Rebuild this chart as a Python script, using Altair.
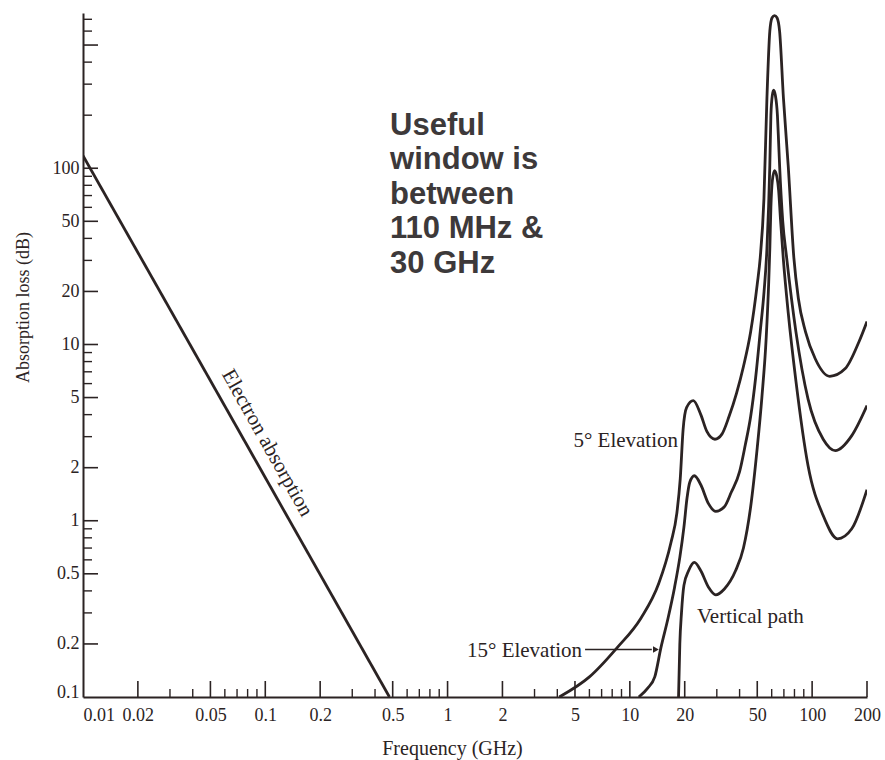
import altair as alt
import pandas as pd

# ---------------- data ----------------
electron_x = [0.01, 0.48]
electron_y = [118, 0.1]

el5_x = [4.1, 6.0, 8.5, 11.5, 14.4, 16.8, 18.1, 18.9, 19.6, 20.5, 22.3, 24.5, 26.5, 29.3, 32, 35, 38.5, 42, 46, 50,
         51.9, 54.4, 56.5, 58.6, 60.3, 62.2, 64.2, 66.3, 69.6, 73.9, 79.4, 84, 92, 104, 125, 152, 181, 200]
el5_y = [0.1, 0.13, 0.19, 0.28, 0.44, 0.75, 1.1, 1.73, 3.3, 4.4, 4.8, 4.0, 3.2, 2.9, 3.1, 3.9, 5.3, 7.5, 11.8, 22,
         31, 67, 250, 600, 715, 735, 715, 600, 250, 104, 31, 18.3, 11.8, 8.3, 6.6, 7.3, 10.4, 13.5]

el15_x = [11.2, 12.5, 13.7, 14.8, 16.2, 17.6, 18.8, 19.8, 20.6, 21.3, 22.6, 24.5, 27, 29.6, 33, 36, 40, 43, 46,
          49, 51.9, 54.5, 56.5, 58.6, 59.4, 60.5, 61.5, 62.8, 64.5, 65.5, 66.3, 69, 72.5, 81.5, 95, 115, 134, 165, 200]
el15_y = [0.1, 0.112, 0.13, 0.19, 0.28, 0.42, 0.62, 0.92, 1.35, 1.65, 1.8, 1.6, 1.25, 1.13, 1.2, 1.45, 1.9, 2.7, 3.9,
          6.5, 11.8, 20, 35, 104, 200, 260, 277, 260, 200, 140, 104, 50, 31, 11.8, 4.9, 2.9, 2.5, 3.04, 4.5]

vert_x = [18.5, 18.8, 19.2, 19.8, 21.0, 22.6, 24.5, 27, 29.6, 33, 38, 42, 46, 50, 53, 56, 57.8, 58.6, 59.4,
          60.5, 62.2, 64.0, 65.5, 67, 69.6, 74, 81.5, 95, 115, 138, 165, 200]
vert_y = [0.1, 0.2, 0.3, 0.43, 0.52, 0.58, 0.52, 0.42, 0.38, 0.41, 0.52, 0.7, 1.2, 2.6, 5.0, 11, 22.7, 35, 60,
          85, 97, 90, 75, 52, 30, 15, 6.2, 2.05, 1.07, 0.79, 0.9, 1.5]

x_major = [0.01, 0.02, 0.05, 0.1, 0.2, 0.5, 1, 2, 5, 10, 20, 50, 100, 200]
x_minor = [0.03, 0.04, 0.06, 0.07, 0.08, 0.09, 0.3, 0.4, 0.6, 0.7, 0.8, 0.9,
           3, 4, 6, 7, 8, 9, 30, 40, 60, 70, 80, 90]
y_major = [0.1, 0.2, 0.5, 1, 2, 5, 10, 20, 50, 100]
y_major_ticks = [0.2, 0.5, 1, 2, 5, 10, 20, 50, 100, 500]
y_minor = [0.3, 0.4, 0.6, 0.7, 0.8, 0.9, 3, 4, 6, 7, 8, 9, 30, 40, 60, 70, 80, 90,
           200, 300, 400, 600, 700]

window_lines = ["Useful", "window is", "between", "110 MHz &", "30 GHz"]

INK = "#2b2323"
SERIF = "Liberation Serif"
W, H = 784, 684

# ---------------- build ----------------
rows = []
for name, xs_, ys_ in [("electron", electron_x, electron_y), ("5deg", el5_x, el5_y),
                       ("15deg", el15_x, el15_y), ("vertical", vert_x, vert_y)]:
    for a, b in zip(xs_, ys_):
        rows.append({"series": name, "f": a, "loss": b})
curves = pd.DataFrame(rows)

xs = alt.Scale(type="log", domain=[0.01, 200], nice=False)
ys = alt.Scale(type="log", domain=[0.1, 760], nice=False)

x_axis = alt.Axis(values=x_major, format="~g", ticks=False, tickSize=0, grid=False,
                  domainColor=INK, domainWidth=2, labelFont=SERIF, labelFontSize=18,
                  labelColor=INK, labelPadding=9, labelFlush=False, labelOverlap=False,
                  labelAlign=alt.expr("datum.value < 0.011 ? 'left' : 'center'"),
                  title="Frequency (GHz)", titleFont=SERIF, titleFontSize=20,
                  titleFontWeight="normal", titleColor=INK, titleX=369, titleY=51,
                  titleAlign="center", titleBaseline="middle")
y_axis = alt.Axis(values=y_major, format="~g", ticks=False, tickSize=0, grid=False,
                  domainColor=INK, domainWidth=2, labelFont=SERIF, labelFontSize=18,
                  labelColor=INK, labelPadding=4, labelOverlap=False, labelFlush=False,
                  labelBaseline=alt.expr("datum.value < 0.11 ? 'alphabetic' : 'middle'"),
                  title="Absorption loss (dB)", titleFont=SERIF, titleFontSize=18,
                  titleFontWeight="normal", titleColor=INK, titleX=-60, titleY=294,
                  titleAngle=-90, titleAlign="center", titleBaseline="middle")


def X(field):
    return alt.X(field, scale=xs, axis=x_axis)


def Y(field):
    return alt.Y(field, scale=ys, axis=y_axis)


lines = alt.Chart(curves).mark_line(interpolate="monotone", strokeWidth=2.8, color=INK, clip=True).encode(
    x=X("f:Q"),
    y=Y("loss:Q"),
    detail="series:N",
    order=alt.Order("f:Q"),
)

xmaj = alt.Chart(pd.DataFrame({"f": [v for v in x_major if v > 0.01]})).mark_rule(color=INK, strokeWidth=1.6).encode(
    x=X("f:Q"), y=alt.value(H), y2=alt.value(H - 16))
xmin = alt.Chart(pd.DataFrame({"f": x_minor})).mark_rule(color=INK, strokeWidth=1.4).encode(
    x=X("f:Q"), y=alt.value(H), y2=alt.value(H - 8))
ymaj = alt.Chart(pd.DataFrame({"loss": y_major_ticks})).mark_rule(color=INK, strokeWidth=1.6).encode(
    y=Y("loss:Q"), x=alt.value(0), x2=alt.value(15))
ymin = alt.Chart(pd.DataFrame({"loss": y_minor})).mark_rule(color=INK, strokeWidth=1.4).encode(
    y=Y("loss:Q"), x=alt.value(0), x2=alt.value(9))


def label(txt, x, y, **kw):
    return alt.Chart(pd.DataFrame({"f": [x], "loss": [y]})).mark_text(
        text=txt, font=SERIF, fontSize=21, color=INK, **kw).encode(x=X("f:Q"), y=Y("loss:Q"))


t_elec = label("Electron absorption", 0.1022, 2.76, angle=60.7, align="center", baseline="middle")
t_5 = label("5° Elevation", 18.38, 2.62, align="right", baseline="alphabetic")
t_15 = label("15° Elevation", 1.278, 0.1687, align="left", baseline="alphabetic")
t_v = label("Vertical path", 23.36, 0.263, align="left", baseline="alphabetic")

arrow_line = alt.Chart(pd.DataFrame({"f": [5.68], "f2": [13.2], "loss": [0.186]})).mark_rule(
    color=INK, strokeWidth=1.4).encode(x=X("f:Q"), x2="f2:Q", y=Y("loss:Q"))
arrow_head = alt.Chart(pd.DataFrame({"f": [13.9], "loss": [0.186]})).mark_point(
    shape="triangle-right", filled=True, size=45, color=INK, opacity=1).encode(
    x=X("f:Q"), y=Y("loss:Q"))

window = alt.Chart(pd.DataFrame({"f": [0.4835], "loss": [154.5]})).mark_text(
    font="Liberation Sans", fontWeight="bold", fontSize=31, lineHeight=34.5,
    align="left", baseline="alphabetic", color="#3d393a").encode(
    x=X("f:Q"), y=Y("loss:Q"), text=alt.value(window_lines))

chart = alt.layer(
    lines, xmaj, xmin, ymaj, ymin, t_elec, t_5, t_15, t_v, arrow_line, arrow_head, window
).properties(
    width=W, height=H,
    padding={"left": 83, "top": 13, "right": 18, "bottom": 63},
    autosize="none",
    background="white",
).configure_view(stroke="transparent")

chart.save("out.html", embed_options={"renderer": "svg", "actions": False})
